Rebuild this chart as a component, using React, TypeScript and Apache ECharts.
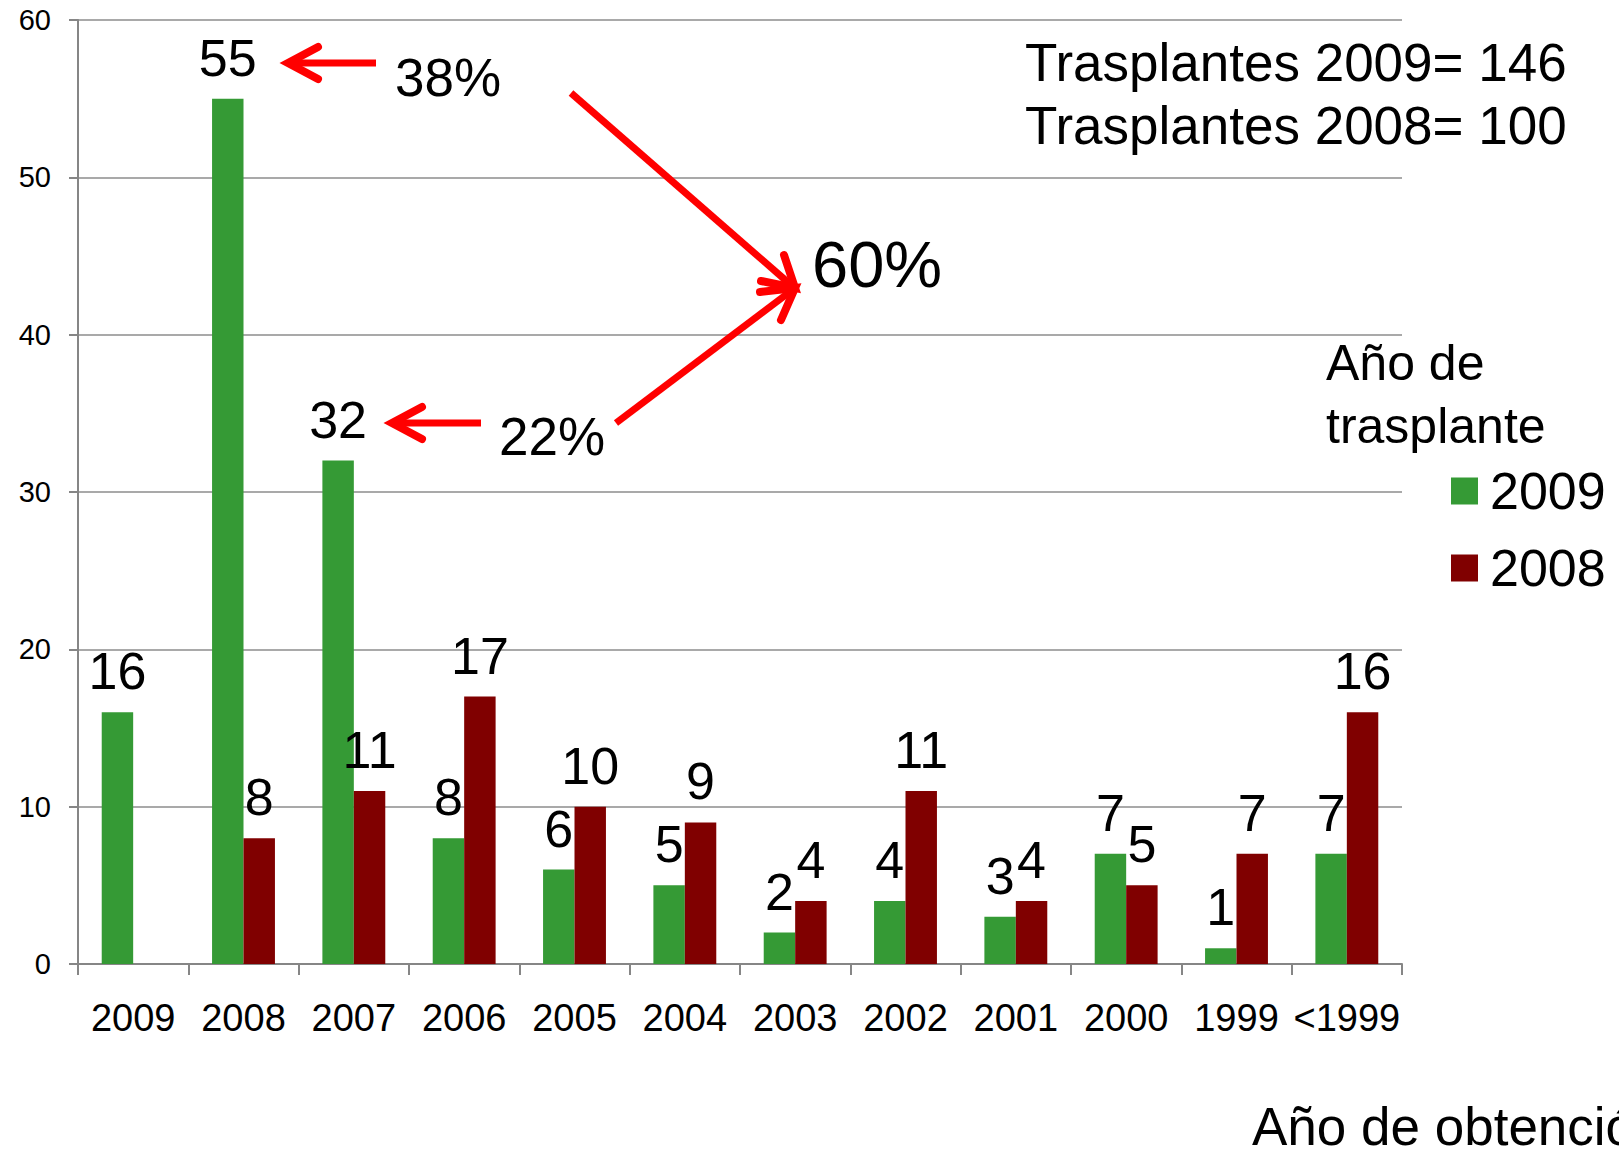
import React, { useEffect, useRef } from 'react';
import * as echarts from 'echarts';

const categories = ['2009', '2008', '2007', '2006', '2005', '2004', '2003', '2002', '2001', '2000', '1999', '<1999'];
const values2009 = [16, 55, 32, 8, 6, 5, 2, 4, 3, 7, 1, 7];
const values2008: (number | null)[] = [null, 8, 11, 17, 10, 9, 4, 11, 4, 5, 7, 16];
const seriesNames = ['2009', '2008'];
const yMin = 0;
const yMax = 60;
const yInterval = 10;
const legendTitle = ['Año de', 'trasplante'];
const totalsText = ['Trasplantes 2009= 146', 'Trasplantes 2008= 100'];
const pctTop = '38%';
const pctBottom = '22%';
const pctTotal = '60%';
const xAxisTitle = 'Año de obtención';

const FONT = '"Liberation Sans", Arial, Helvetica, sans-serif';
const GREEN = '#359a35';
const RED = '#800000';
const AXIS = '#868686';
const ARROW = '#ff0000';

function txt(text: string, x: number, y: number, size: number) {
  return {
    type: 'text',
    x,
    y,
    style: {
      text,
      fontSize: size,
      fontFamily: FONT,
      fill: '#000',
      align: 'left',
      verticalAlign: 'middle',
    },
  };
}

function line(x1: number, y1: number, x2: number, y2: number) {
  return {
    type: 'line',
    shape: { x1, y1, x2, y2 },
    style: { stroke: ARROW, lineWidth: 7, lineCap: 'butt' },
    z: 10,
  };
}

function head(points: number[][]) {
  return {
    type: 'polyline',
    shape: { points },
    style: { stroke: ARROW, lineWidth: 8, fill: null, lineCap: 'round', lineJoin: 'miter' },
    z: 10,
  };
}

export default function App() {
  const ref = useRef<HTMLDivElement>(null);

  useEffect(() => {
    if (!ref.current) return;
    const chart = echarts.init(ref.current, null, { renderer: 'svg' });
    const labelCommon = {
      show: true,
      position: 'top',
      distance: 15,
      fontSize: 52,
      lineHeight: 52,
      fontFamily: FONT,
      color: '#000',
    };
    chart.setOption({
      animation: false,
      backgroundColor: '#ffffff',
      textStyle: { fontFamily: FONT },
      grid: { left: 78, right: 217, top: 20, bottom: 185, containLabel: false },
      legend: {
        orient: 'vertical',
        left: 1451,
        top: 465,
        padding: 0,
        itemWidth: 27,
        itemHeight: 27,
        itemGap: 25,
        icon: 'rect',
        data: seriesNames,
        textStyle: { fontSize: 52, lineHeight: 51, fontFamily: FONT, color: '#000', padding: [0, 0, 0, 7] },
      },
      xAxis: {
        type: 'category',
        data: categories,
        boundaryGap: true,
        axisLine: { show: true, lineStyle: { color: AXIS, width: 2 } },
        axisTick: { show: true, length: 11, alignWithLabel: false, interval: 0, lineStyle: { color: AXIS, width: 2 } },
        axisLabel: { interval: 0, fontSize: 38, lineHeight: 38, margin: 35, color: '#000', fontFamily: FONT },
        splitLine: { show: false },
      },
      yAxis: {
        type: 'value',
        min: yMin,
        max: yMax,
        interval: yInterval,
        axisLine: { show: true, lineStyle: { color: AXIS, width: 2 } },
        axisTick: { show: true, length: 9, lineStyle: { color: AXIS, width: 2 } },
        axisLabel: { fontSize: 29, margin: 27, color: '#000', fontFamily: FONT, padding: [4, 0, 0, 0] },
        splitLine: { show: true, lineStyle: { color: '#8c8c8c', width: 1.5 } },
      },
      series: [
        {
          name: seriesNames[0],
          type: 'bar',
          data: values2009,
          barGap: '0%',
          barCategoryGap: '43%',
          itemStyle: { color: GREEN },
          label: labelCommon,
        },
        {
          name: seriesNames[1],
          type: 'bar',
          data: values2008,
          barGap: '0%',
          barCategoryGap: '43%',
          itemStyle: { color: RED },
          label: labelCommon,
        },
      ],
      graphic: [
        txt(totalsText[0], 1025, 62, 53),
        txt(totalsText[1], 1025, 125, 53),
        txt(legendTitle[0], 1326, 363, 50),
        txt(legendTitle[1], 1326, 426, 50),
        txt(pctTop, 395, 77, 53),
        txt(pctBottom, 499, 436, 53),
        txt(pctTotal, 812, 264, 65),
        txt(xAxisTitle, 1252, 1126, 53),
        line(376, 63, 291, 63),
        head([[318, 47], [288, 63], [318, 79]]),
        line(481, 423, 395, 423),
        head([[422, 407], [392, 423], [422, 439]]),
        line(571, 93, 791, 285),
        head([[784, 255], [795, 288], [761, 281]]),
        line(616, 423, 791, 291),
        head([[760, 292], [795, 288], [781, 320]]),
      ],
    });
    return () => chart.dispose();
  }, []);

  return (
    <div
      ref={ref}
      style={{ position: 'absolute', left: 0, top: 0, width: 1619, height: 1149, background: '#fff' }}
    />
  );
}
